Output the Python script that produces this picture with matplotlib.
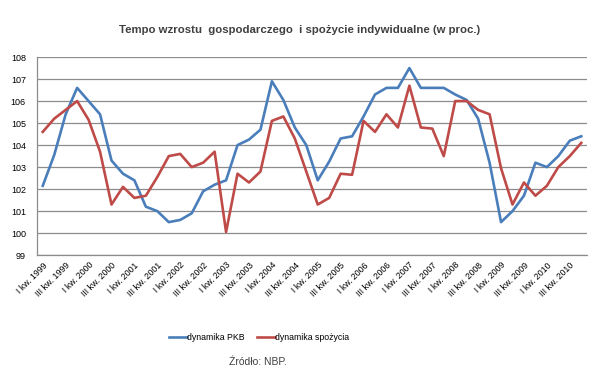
import matplotlib.pyplot as plt

plt.rcParams['font.family'] = ['Liberation Sans', 'DejaVu Sans']

years = list(range(1999, 2011))
quarters = ["I", "II", "III", "IV"]
labels = ["%s kw. %d" % (q, y) for y in years for q in quarters]

pkb = [102.15, 103.55, 105.4, 106.6, 106.0, 105.4, 103.3, 102.7,
       102.4, 101.2, 101.0, 100.5, 100.6, 100.9, 101.9, 102.2,
       102.4, 104.0, 104.25, 104.7, 106.9, 106.05, 104.8, 104.0,
       102.4, 103.25, 104.3, 104.4, 105.3, 106.3, 106.6, 106.6,
       107.5, 106.6, 106.6, 106.6, 106.3, 106.05, 105.2, 103.2,
       100.5, 101.0, 101.7, 103.2, 103.0, 103.5, 104.2, 104.4]

spozycie = [104.6, 105.2, 105.6, 106.0, 105.15, 103.7, 101.3, 102.1,
            101.6, 101.7, 102.55, 103.5, 103.6, 103.0, 103.2, 103.7,
            100.05, 102.7, 102.3, 102.8, 105.1, 105.3, 104.3, 102.8,
            101.3, 101.6, 102.7, 102.65, 105.1, 104.6, 105.4, 104.8,
            106.7, 104.8, 104.75, 103.5, 106.0, 106.0, 105.6, 105.4,
            102.95, 101.3, 102.3, 101.7, 102.15, 103.0, 103.5, 104.1]

fig = plt.figure(figsize=(6.07, 3.73), dpi=100)
ax = fig.add_axes([0.061, 0.316, 0.906, 0.531])

x = range(len(labels))
ax.plot(x, pkb, color='#4A7EBB', lw=1.9, label='dynamika PKB')
ax.plot(x, spozycie, color='#BE4B48', lw=1.9, label='dynamika spożycia')

ax.set_xlim(-0.5, len(labels) - 0.5)
ax.set_ylim(99, 108)
ax.set_yticks(range(99, 109))
ax.yaxis.grid(True, color='#8c8c8c', lw=0.9)
ax.set_axisbelow(True)
ax.tick_params(axis='y', length=0, labelsize=6.5, pad=8)
ax.tick_params(axis='x', length=0, labelsize=6.3, pad=4)
ax.set_xticks(list(x)[::2])
ax.set_xticklabels(labels[::2], rotation=45, ha='right', va='top',
                   rotation_mode='anchor')
for s in ['top', 'right']:
    ax.spines[s].set_visible(False)
for s in ['left', 'bottom']:
    ax.spines[s].set_color('#8c8c8c')
    ax.spines[s].set_linewidth(0.9)

fig.text(0.493, 1 - 30 / 373, 'Tempo wzrostu  gospodarczego  i spożycie indywidualne (w proc.)',
         ha='center', va='center', fontsize=8.2, fontweight='bold', color='#404040')

fig.legend(loc='center', bbox_to_anchor=(0.427, 1 - 338 / 373), ncol=2,
           frameon=False, fontsize=6.3, handlelength=2.0, handletextpad=0.05,
           columnspacing=1.4)

fig.text(0.425, 1 - 362 / 373, 'Źródło: NBP.', ha='center', va='center',
         fontsize=7.5, color='#404040')

fig.savefig('out.png', dpi=100)
